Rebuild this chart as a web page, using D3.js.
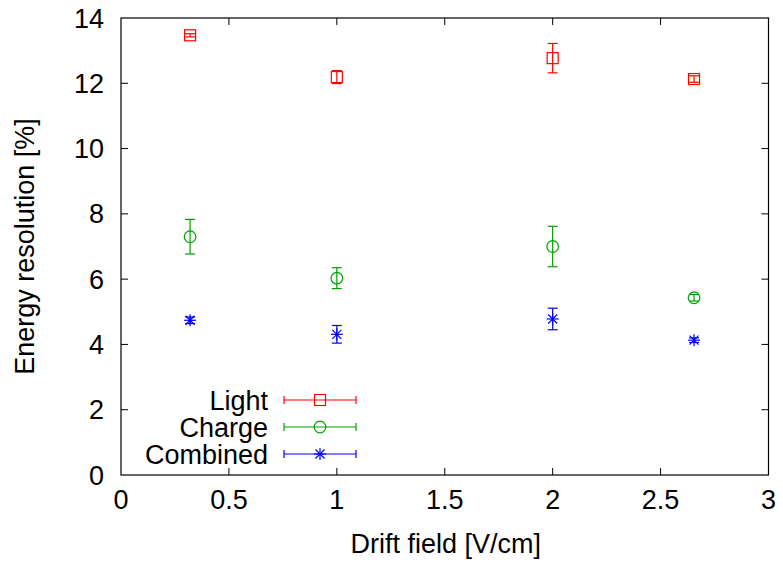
<!DOCTYPE html>
<html><head><meta charset="utf-8">
<script src="https://cdn.jsdelivr.net/npm/d3@7"></script>
<style>body{margin:0;background:#fff}svg{display:block}text{font-family:"Liberation Sans",Arial,sans-serif}</style>
</head><body><svg id="c" width="783" height="562"></svg>
<script>
const fields = [0.32, 1.0, 2.0, 2.655];
const lightVals = [13.47, 12.19, 12.77, 12.13];
const lightErr = [0.05, 0.2, 0.45, 0.1];
const chargeVals = [7.3, 6.03, 7.0, 5.43];
const chargeErr = [0.53, 0.32, 0.62, 0.1];
const combinedVals = [4.74, 4.31, 4.78, 4.13];
const combinedErr = [0.1, 0.27, 0.33, 0.07];
const seriesNames = ["Light", "Charge", "Combined"];
const xTicks = [0, 0.5, 1, 1.5, 2, 2.5, 3];
const yTicks = [0, 2, 4, 6, 8, 10, 12, 14];

const svg = d3.select("#c");
const L = 121, R = 768.5, T = 18, B = 475;
const x = d3.scaleLinear().domain([0, 3]).range([L, R]);
const y = d3.scaleLinear().domain([0, 14]).range([B, T]);
const tl = 7;
const FS = 27;

const series = [
  {name: seriesNames[0], vals: lightVals, err: lightErr, color: "#ff0000", sym: "square"},
  {name: seriesNames[1], vals: chargeVals, err: chargeErr, color: "#00a000", sym: "circle"},
  {name: seriesNames[2], vals: combinedVals, err: combinedErr, color: "#0000ff", sym: "star"}
];

const g = svg.append("g");
xTicks.forEach(t => {
  if (t > 0 && t < 3) {
    g.append("line").attr("x1", x(t)).attr("x2", x(t)).attr("y1", B).attr("y2", B - tl).attr("stroke", "#000");
    g.append("line").attr("x1", x(t)).attr("x2", x(t)).attr("y1", T).attr("y2", T + tl).attr("stroke", "#000");
  }
  g.append("text").attr("x", x(t)).attr("y", B + 34).attr("text-anchor", "middle").attr("font-size", FS).text(t);
});
yTicks.forEach(t => {
  if (t > 0 && t < 14) {
    g.append("line").attr("x1", L).attr("x2", L + tl).attr("y1", y(t)).attr("y2", y(t)).attr("stroke", "#000");
    g.append("line").attr("x1", R).attr("x2", R - tl).attr("y1", y(t)).attr("y2", y(t)).attr("stroke", "#000");
  }
  g.append("text").attr("x", L - 17).attr("y", y(t) + 9.5).attr("text-anchor", "end").attr("font-size", FS).text(t);
});
svg.append("rect").attr("x", L).attr("y", T).attr("width", R - L).attr("height", B - T)
  .attr("fill", "none").attr("stroke", "#000").attr("stroke-width", 1.2);

svg.append("text").attr("x", (L + R) / 2 + 1).attr("y", 553).attr("text-anchor", "middle").attr("font-size", FS).text("Drift field [V/cm]");
svg.append("text").attr("transform", `translate(34,${(T + B) / 2}) rotate(-90)`).attr("text-anchor", "middle").attr("font-size", FS).text("Energy resolution [%]");

function symbol(sel, cx, cy, s) {
  const c = s.color;
  if (s.sym === "square") {
    sel.append("rect").attr("x", cx - 5.5).attr("y", cy - 5.5).attr("width", 11).attr("height", 11)
      .attr("fill", "none").attr("stroke", c).attr("stroke-width", 1.2);
  } else if (s.sym === "circle") {
    sel.append("circle").attr("cx", cx).attr("cy", cy).attr("r", 5.8)
      .attr("fill", "none").attr("stroke", c).attr("stroke-width", 1.2);
  } else {
    const r = 6;
    [[r, 0], [0, r], [r * 0.75, r * 0.75], [r * 0.75, -r * 0.75]].forEach(([dx, dy]) => {
      sel.append("line").attr("x1", cx - dx).attr("x2", cx + dx).attr("y1", cy - dy).attr("y2", cy + dy)
        .attr("stroke", c).attr("stroke-width", 1.2);
    });
  }
}

const cap = 5;
series.forEach(s => {
  const gs = svg.append("g");
  fields.forEach((f, i) => {
    const cx = x(f), cy = y(s.vals[i]);
    const y1 = y(s.vals[i] + s.err[i]), y2 = y(s.vals[i] - s.err[i]);
    gs.append("line").attr("x1", cx).attr("x2", cx).attr("y1", y1).attr("y2", y2).attr("stroke", s.color).attr("stroke-width", 1.2);
    gs.append("line").attr("x1", cx - cap).attr("x2", cx + cap).attr("y1", y1).attr("y2", y1).attr("stroke", s.color).attr("stroke-width", 1.2);
    gs.append("line").attr("x1", cx - cap).attr("x2", cx + cap).attr("y1", y2).attr("y2", y2).attr("stroke", s.color).attr("stroke-width", 1.2);
    symbol(gs, cx, cy, s);
  });
});

series.forEach((s, i) => {
  const ly = 400 + i * 27;
  const gl = svg.append("g");
  gl.append("text").attr("x", 268).attr("y", ly + 9.5).attr("text-anchor", "end").attr("font-size", FS).text(s.name);
  gl.append("line").attr("x1", 284).attr("x2", 356).attr("y1", ly).attr("y2", ly).attr("stroke", s.color).attr("stroke-width", 1.2);
  [284, 356].forEach(xx => gl.append("line").attr("x1", xx).attr("x2", xx).attr("y1", ly - 4).attr("y2", ly + 4).attr("stroke", s.color).attr("stroke-width", 1.2));
  symbol(gl, 320, ly, s);
});
</script></body></html>
